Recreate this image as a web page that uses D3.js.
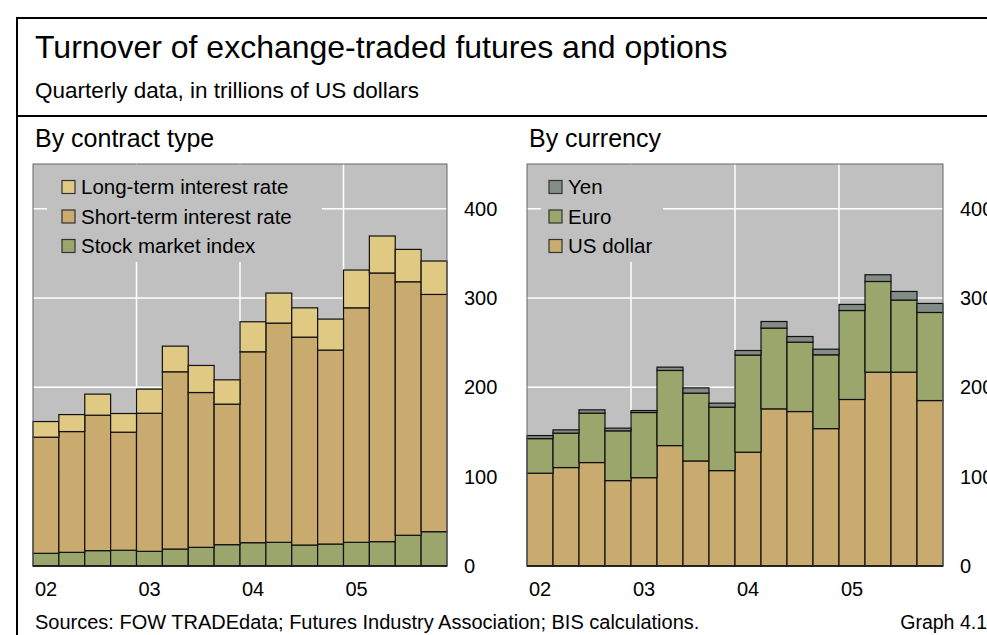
<!DOCTYPE html>
<html>
<head>
<meta charset="utf-8">
<script src="https://cdn.jsdelivr.net/npm/d3@7"></script>
<style>
  body { margin: 0; background: #fff; }
  svg { font-family: "Liberation Sans", Arial, sans-serif; }
</style>
</head>
<body>
<div id="chart"></div>
<script>
// quarters 2002Q1 .. 2005Q4
let quarters = [];
["2002", "2003", "2004", "2005"].forEach(y => ["Q1", "Q2", "Q3", "Q4"].forEach(q => quarters.push(y + q)));

let yearTicks = ["2002Q1", "2003Q1", "2004Q1", "2005Q1"];
let yearLabels = ["02", "03", "04", "05"];
let yTicks = [0, 100, 200, 300, 400];

// by contract type
let stockIndex = [14.2, 15.3, 17.2, 17.6, 16.4, 19.0, 20.9, 23.9, 26.1, 26.5, 23.5, 24.6, 26.5, 27.3, 34.4, 38.4];
let shortTerm  = [130.0, 135.2, 151.6, 132.2, 154.6, 198.4, 173.3, 157.3, 213.7, 245.4, 232.7, 217.1, 262.5, 300.7, 283.8, 265.6];
let longTerm   = [17.5, 19.0, 23.6, 20.9, 27.0, 28.7, 30.3, 27.2, 33.6, 33.6, 32.8, 34.7, 42.3, 41.4, 36.2, 37.4];

// by currency
let usDollar = [103.9, 110.2, 115.8, 95.6, 98.9, 134.8, 117.6, 106.8, 127.4, 175.9, 172.9, 153.8, 186.4, 217.0, 217.0, 185.2];
let euro     = [38.7, 38.5, 55.3, 55.7, 72.9, 84.1, 75.9, 71.0, 108.7, 90.4, 77.7, 82.6, 99.6, 101.5, 80.7, 98.6];
let yen      = [3.4, 3.7, 3.7, 3.0, 2.2, 3.7, 5.9, 4.5, 5.1, 7.4, 6.3, 6.3, 6.8, 7.5, 9.6, 10.1];

let width = 987, height = 635;

let svg = d3.select("#chart").append("svg")
    .attr("width", width)
    .attr("height", height);

// frame
svg.append("path")
  .attr("d", "M17," + height + "V18H" + width)
  .attr("fill", "none")
  .attr("stroke", "#000")
  .attr("stroke-width", 2);
svg.append("line")
  .attr("x1", 17).attr("x2", width)
  .attr("y1", 116).attr("y2", 116)
  .attr("stroke", "#000")
  .attr("stroke-width", 2);

svg.append("text")
  .attr("x", 35).attr("y", 58)
  .style("font-size", "32px")
  .text("Turnover of exchange-traded futures and options");

svg.append("text")
  .attr("x", 35).attr("y", 98)
  .style("font-size", "22.5px")
  .text("Quarterly data, in trillions of US dollars");

svg.append("text")
  .attr("x", 35).attr("y", 629)
  .style("font-size", "20px")
  .text("Sources: FOW TRADEdata; Futures Industry Association; BIS calculations.");

svg.append("text")
  .attr("x", 987).attr("y", 629)
  .attr("text-anchor", "end")
  .style("font-size", "19.5px")
  .text("Graph 4.1");

let y = d3.scaleLinear()
    .domain([0, 450])
    .range([566, 164]);

function panel(opts) {
  let x = d3.scaleBand()
      .domain(quarters)
      .range([opts.left, opts.right]);

  let g = svg.append("g");

  g.append("text")
    .attr("x", opts.left + 2).attr("y", 147)
    .style("font-size", "25px")
    .text(opts.title);

  g.append("rect")
    .attr("x", opts.left).attr("y", y(450))
    .attr("width", opts.right - opts.left)
    .attr("height", y(0) - y(450))
    .attr("fill", "#c0c0c0");

  // gridlines
  g.selectAll(".hgrid")
    .data(yTicks.slice(1))
    .enter().append("line")
    .attr("x1", opts.left).attr("x2", opts.right)
    .attr("y1", d => y(d)).attr("y2", d => y(d))
    .attr("stroke", "#fff")
    .attr("stroke-width", 1.5);

  g.selectAll(".vgrid")
    .data(yearTicks.slice(1))
    .enter().append("line")
    .attr("x1", d => x(d)).attr("x2", d => x(d))
    .attr("y1", y(450)).attr("y2", y(0))
    .attr("stroke", "#fff")
    .attr("stroke-width", 1.5);

  // legend box hides gridlines
  g.append("rect")
    .attr("x", opts.left + 14).attr("y", y(450) + 1)
    .attr("width", opts.legendW).attr("height", 97)
    .attr("fill", "#c0c0c0");

  let stack = d3.stack().keys(opts.keys.map((k, i) => i));
  let rows = quarters.map((q, j) => {
    let r = { q: q };
    opts.series.forEach((s, i) => r[i] = s[j]);
    return r;
  });
  let layers = stack(rows);

  g.selectAll(".layer")
    .data(layers)
    .enter().append("g")
    .attr("fill", (d, i) => opts.colors[i])
    .selectAll("rect")
    .data(d => d)
    .enter().append("rect")
    .attr("x", d => x(d.data.q))
    .attr("width", x.bandwidth())
    .attr("y", d => y(d[1]))
    .attr("height", d => y(d[0]) - y(d[1]))
    .attr("stroke", "#111")
    .attr("stroke-width", 1.2);

  // plot border
  g.append("rect")
    .attr("x", opts.left).attr("y", y(450))
    .attr("width", opts.right - opts.left)
    .attr("height", y(0) - y(450))
    .attr("fill", "none")
    .attr("stroke", "#666")
    .attr("stroke-width", 1);
  g.append("line")
    .attr("x1", opts.left).attr("x2", opts.right)
    .attr("y1", y(0)).attr("y2", y(0))
    .attr("stroke", "#111")
    .attr("stroke-width", 1.5);

  // legend (top item = top of stack)
  let legendOrder = opts.keys.map((k, i) => i).reverse();
  let leg = g.selectAll(".leg")
    .data(legendOrder)
    .enter().append("g")
    .attr("transform", (d, i) => "translate(" + (opts.left + opts.swatchDx) + "," + (187 + i * 29.5) + ")");
  leg.append("rect")
    .attr("x", 0).attr("y", -6.5)
    .attr("width", 13).attr("height", 13)
    .attr("fill", d => opts.colors[d])
    .attr("stroke", "#333")
    .attr("stroke-width", 1.2);
  leg.append("text")
    .attr("x", opts.textDx).attr("y", 7)
    .style("font-size", "20.5px")
    .text(d => opts.keys[d]);

  // y axis on the right
  let yAxis = g.append("g")
    .attr("transform", "translate(" + opts.right + ",0)")
    .call(d3.axisRight(y).tickValues(yTicks).tickSize(0).tickPadding(17));
  yAxis.select(".domain").remove();
  yAxis.selectAll("text")
    .style("font-size", "20px")
    .style("font-family", "Liberation Sans, Arial, sans-serif")
    .attr("fill", "#000");

  // x labels
  g.selectAll(".xlab")
    .data(yearTicks)
    .enter().append("text")
    .attr("x", d => x(d) + 2)
    .attr("y", 596)
    .style("font-size", "20px")
    .text((d, i) => yearLabels[i]);
}

panel({
  title: "By contract type",
  left: 33, right: 447,
  legendW: 275,
  swatchDx: 29, textDx: 19,
  keys: ["Stock market index", "Short-term interest rate", "Long-term interest rate"],
  series: [stockIndex, shortTerm, longTerm],
  colors: ["#9aa66b", "#c9aa6f", "#e0c983"]
});

panel({
  title: "By currency",
  left: 527, right: 943,
  legendW: 122,
  swatchDx: 22, textDx: 19,
  keys: ["US dollar", "Euro", "Yen"],
  series: [usDollar, euro, yen],
  colors: ["#c9aa6f", "#9aa66b", "#848c86"]
});
</script>
</body>
</html>
